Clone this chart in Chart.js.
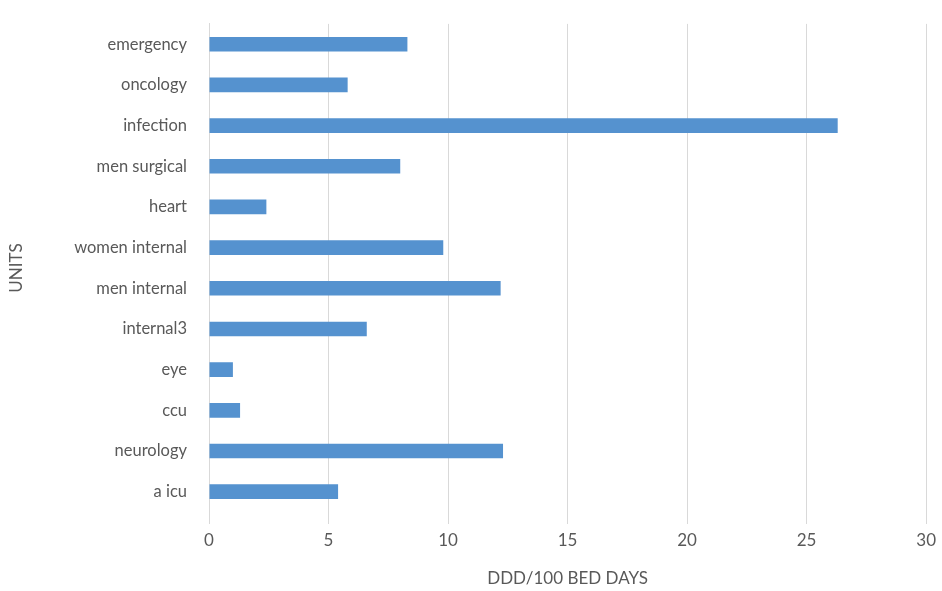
<!DOCTYPE html>
<html>
<head>
<meta charset="utf-8">
<script src="https://cdn.jsdelivr.net/npm/chart.js@4"></script>
<style>
  html, body { margin: 0; padding: 0; background: #fff; }
  #wrap { width: 942px; height: 591px; }
</style>
</head>
<body>
<div id="wrap"><canvas id="chart" width="942" height="591"></canvas></div>
<script>
const units = ['emergency', 'oncology', 'infection', 'men surgical', 'heart', 'women internal',
    'men internal', 'internal3', 'eye', 'ccu', 'neurology', 'a icu'];
const dddValues = [8.3, 5.8, 26.3, 8.0, 2.4, 9.8, 12.2, 6.6, 1.0, 1.3, 12.3, 5.4];
const xTicks = [0, 5, 10, 15, 20, 25, 30];

const labelColor = '#595959';
const gridColor = '#d9d9d9';

const ctx = document.getElementById('chart').getContext('2d');
new Chart(ctx, {
    type: 'bar',
    data: {
        labels: units,
        datasets: [{
            label: 'DDD/100 BED DAYS',
            data: dddValues,
            backgroundColor: '#5592cf',
            barPercentage: 0.72,
            categoryPercentage: 0.5
        }]
    },
    options: {
        indexAxis: 'y',
        responsive: false,
        animation: false,
        layout: { padding: { top: 18, right: 14, bottom: 2, left: 6 } },
        plugins: {
            legend: { display: false },
            tooltip: { enabled: false }
        },
        scales: {
            x: {
                min: 0,
                max: 30,
                afterBuildTicks: function(scale) {
                    scale.ticks = xTicks.map(v => ({ value: v }));
                },
                afterFit: function(scale) { scale.height = 77; },
                grid: { color: gridColor, tickLength: 12, drawTicks: true, tickColor: gridColor },
                border: { display: false },
                ticks: { color: labelColor, font: { family: 'Lato', size: 17 }, padding: 6 },
                title: {
                    display: true,
                    text: 'DDD/100 BED DAYS',
                    color: labelColor,
                    font: { family: 'Lato', size: 17 },
                    padding: { top: 6, bottom: 0 }
                }
            },
            y: {
                afterFit: function(scale) { scale.width = 203; },
                grid: { display: false },
                border: { display: true, color: gridColor },
                ticks: { color: labelColor, font: { family: 'Lato', size: 16.5 }, padding: 14 },
                title: {
                    display: true,
                    text: 'UNITS',
                    color: labelColor,
                    font: { family: 'Lato', size: 17 },
                    padding: { top: 0, bottom: 0 }
                }
            }
        }
    }
});
</script>
</body>
</html>
